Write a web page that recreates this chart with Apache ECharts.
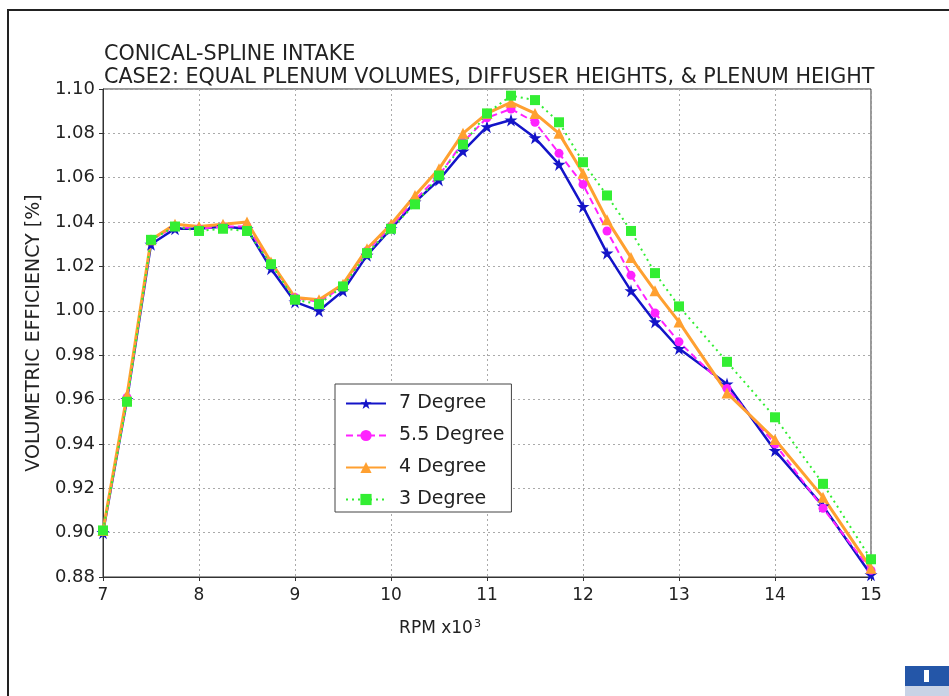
<!DOCTYPE html>
<html>
<head>
<meta charset="utf-8">
<script src="https://cdn.jsdelivr.net/npm/echarts@6/dist/echarts.min.js"></script>
<style>
  html, body { margin: 0; padding: 0; background: #fff; }
  #box { width: 949px; height: 696px; }
</style>
</head>
<body>
<div id="box"></div>
<script>
// rpm (x1000)
const rpm = [7, 7.25, 7.5, 7.75, 8, 8.25, 8.5, 8.75, 9, 9.25, 9.5, 9.75, 10, 10.25, 10.5, 10.75,
  11, 11.25, 11.5, 11.75, 12, 12.25, 12.5, 12.75, 13, 13.5, 14, 14.5, 15]

const deg7 = [0.900, 0.960, 1.030, 1.037, 1.037, 1.038, 1.037, 1.019, 1.004, 1.000, 1.009, 1.025, 1.037, 1.049, 1.059, 1.072,
  1.083, 1.086, 1.078, 1.066, 1.047, 1.026, 1.009, 0.995, 0.983, 0.967, 0.937, 0.912, 0.881]
const deg55 = [0.901, 0.961, 1.032, 1.038, 1.037, 1.038, 1.038, 1.021, 1.006, 1.004, 1.011, 1.027, 1.038, 1.050, 1.061, 1.076,
  1.087, 1.091, 1.085, 1.071, 1.057, 1.036, 1.016, 0.999, 0.986, 0.965, 0.940, 0.911, 0.883]
const deg4 = [0.901, 0.962, 1.032, 1.039, 1.038, 1.039, 1.040, 1.022, 1.006, 1.005, 1.012, 1.028, 1.039, 1.052, 1.064, 1.080,
  1.089, 1.094, 1.089, 1.080, 1.062, 1.041, 1.024, 1.009, 0.995, 0.963, 0.942, 0.916, 0.884]
const deg3 = [0.901, 0.959, 1.032, 1.038, 1.036, 1.037, 1.036, 1.021, 1.005, 1.003, 1.011, 1.026, 1.037, 1.048, 1.061, 1.075,
  1.089, 1.097, 1.095, 1.085, 1.067, 1.052, 1.036, 1.017, 1.002, 0.977, 0.952, 0.922, 0.888]

const seriesNames = ['7 Degree', '5.5 Degree', '4 Degree', '3 Degree']
const titleLines = ['CONICAL-SPLINE INTAKE', 'CASE2: EQUAL PLENUM VOLUMES, DIFFUSER HEIGHTS, & PLENUM HEIGHT']

const pairs = (ys) => rpm.map((x, i) => [x, ys[i]])
const font = 'DejaVu Sans'

const myChart = echarts.init(document.getElementById('box'))

let data = {
  backgroundColor: '#fff',
  animation: false,
  textStyle: { fontFamily: font },
  graphic: [
    // outer frame (only top and left edges fall inside the picture)
    { type: 'rect', shape: { x: 8, y: 10, width: 1000, height: 1000 },
      style: { fill: 'none', stroke: '#222', lineWidth: 2 } },
    { type: 'text', left: 104, top: 44,
      style: { text: titleLines[0], font: '20.7px ' + font, fill: '#222' } },
    { type: 'text', left: 104, top: 67,
      style: { text: titleLines[1], font: '20.7px ' + font, fill: '#222' } },
    // small logo in the corner
    { type: 'rect', shape: { x: 905, y: 666, width: 44, height: 20 }, style: { fill: '#2456a8' } },
    { type: 'rect', shape: { x: 924, y: 670, width: 5, height: 12 }, style: { fill: '#fff' } },
    { type: 'rect', shape: { x: 905, y: 686, width: 44, height: 10 }, style: { fill: '#c9d3e6' } }
  ],
  legend: {
    orient: 'vertical',
    left: 335,
    top: 384,
    data: seriesNames,
    backgroundColor: '#fff',
    borderColor: '#444',
    borderWidth: 1,
    padding: [10, 7, 3, 10],
    itemWidth: 40,
    itemHeight: 14,
    itemGap: 13,
    textStyle: { fontSize: 19, color: '#222', fontFamily: font, lineHeight: 19, padding: [0, 0, 0, 8] }
  },
  grid: {
    left: 103,
    right: 78,
    top: 89,
    bottom: 119,
    show: true,
    borderColor: '#333',
    borderWidth: 1
  },
  xAxis: {
    type: 'value',
    min: 7,
    max: 15,
    interval: 1,
    name: '{a|RPM x10}{s|3}',
    nameLocation: 'middle',
    nameGap: 42,
    nameTextStyle: {
      padding: [0, 94, 0, 0],
      rich: {
        a: { fontSize: 17, color: '#222', fontFamily: font },
        s: { fontSize: 11, color: '#222', fontFamily: font, verticalAlign: 'top', padding: [0, 0, 8, 1] }
      }
    },
    axisLine: { lineStyle: { color: '#333' } },
    axisTick: { length: 4, lineStyle: { color: '#333' } },
    axisLabel: { fontSize: 17, color: '#222', margin: 10 },
    splitLine: { show: true, lineStyle: { color: '#aaa', type: [2, 3] } }
  },
  yAxis: {
    type: 'value',
    min: 0.88,
    max: 1.10,
    interval: 0.02,
    name: 'VOLUMETRIC EFFICIENCY [%]',
    nameLocation: 'middle',
    nameGap: 56,
    nameTextStyle: { fontSize: 19, color: '#222', fontFamily: font },
    axisLine: { show: true, lineStyle: { color: '#333' } },
    axisTick: { show: true, length: 4, lineStyle: { color: '#333' } },
    axisLabel: { fontSize: 18, color: '#222', margin: 8, formatter: (v) => v.toFixed(2) },
    splitLine: { show: true, lineStyle: { color: '#aaa', type: [2, 3] } }
  },
  series: [
    {
      name: seriesNames[0],
      type: 'line',
      data: pairs(deg7),
      symbol: 'path://M50,0 L61,35 L98,35 L68,57 L79,92 L50,70 L21,92 L32,57 L2,35 L39,35 Z',
      symbolSize: 13,
      color: '#1414c8',
      lineStyle: { width: 2.5, color: '#1414c8' },
      itemStyle: { color: '#1414c8' }
    },
    {
      name: seriesNames[1],
      type: 'line',
      data: pairs(deg55),
      symbol: 'circle',
      symbolSize: 9,
      color: '#ff22ff',
      lineStyle: { width: 2, type: [7, 4], color: '#ff22ff' },
      itemStyle: { color: '#ff22ff' }
    },
    {
      name: seriesNames[2],
      type: 'line',
      data: pairs(deg4),
      symbol: 'triangle',
      symbolSize: 11,
      color: '#ffa030',
      lineStyle: { width: 3, color: '#ffa030' },
      itemStyle: { color: '#ffa030' }
    },
    {
      name: seriesNames[3],
      type: 'line',
      data: pairs(deg3),
      symbol: 'rect',
      symbolSize: 10,
      color: '#33ee33',
      lineStyle: { width: 2, type: [2, 4], color: '#33ee33' },
      itemStyle: { color: '#33ee33' }
    }
  ]
}

myChart.setOption(data)
</script>
</body>
</html>
